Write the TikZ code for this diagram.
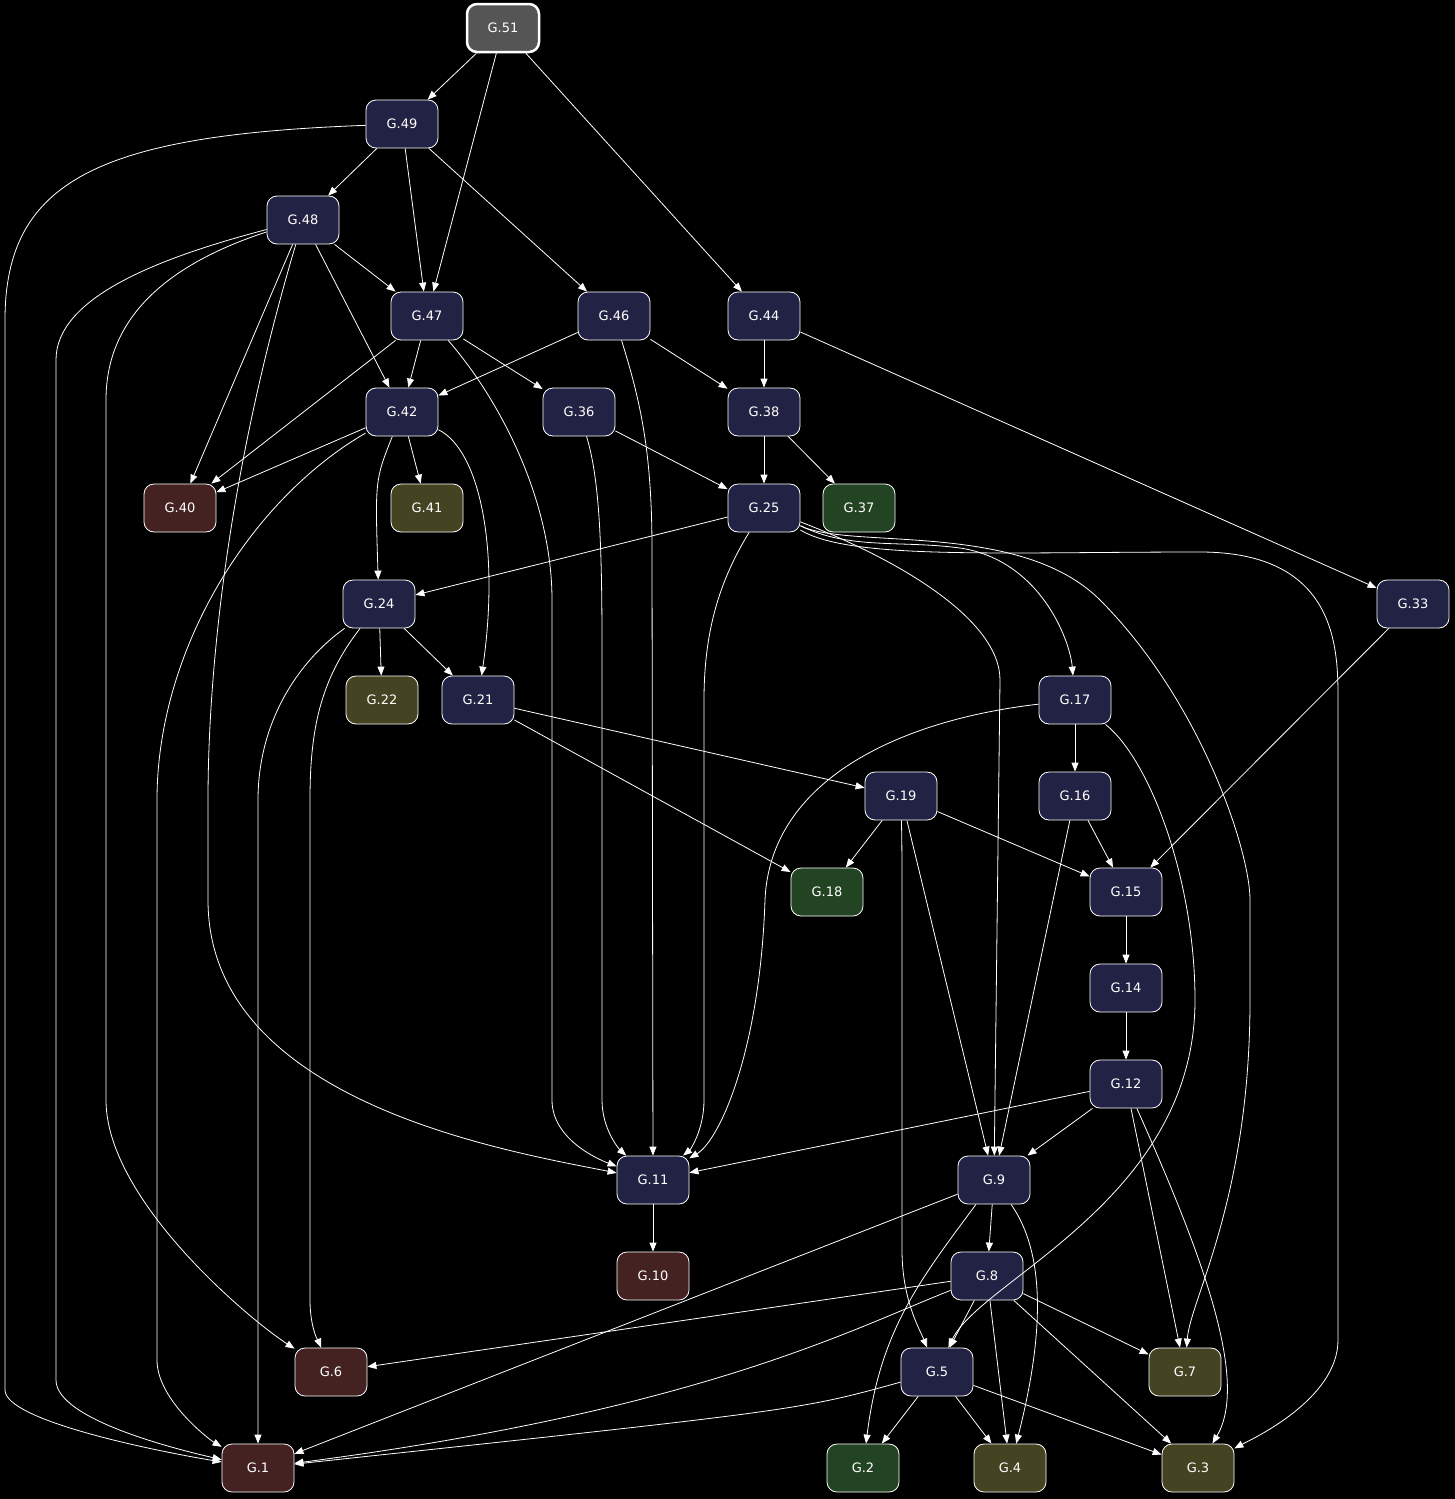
\documentclass[tikz,border=0pt]{standalone}
\usepackage{fontspec}
\setmainfont{DejaVu Sans}
\usetikzlibrary{arrows.meta}
\begin{document}
\begin{tikzpicture}[x=1pt,y=-1pt,
  n/.style={draw=white,rounded corners=10pt,minimum width=72pt,minimum height=48pt,text=white,font=\fontsize{13}{15}\selectfont,line width=0.8pt,inner sep=0pt},
  bl/.style={n,fill=blue!35!black!30!black!100!white!0!black, fill={rgb,255:red,34;green,34;blue,68}},
  rd/.style={n,fill={rgb,255:red,68;green,34;blue,34}},
  ol/.style={n,fill={rgb,255:red,68;green,68;blue,34}},
  gr/.style={n,fill={rgb,255:red,34;green,68;blue,34}},
  gy/.style={n,fill={rgb,255:red,85;green,85;blue,85},line width=2.5pt},
  e/.style={draw=white,line width=0.8pt,-{Triangle[length=9pt,width=7pt]}}]
\fill[black] (0,0) rectangle (1455,1499);
\useasboundingbox (0,0) rectangle (1455,1499);
\node[gy] (51) at (503,28) {G.51};
\node[bl] (49) at (402,124) {G.49};
\node[bl] (48) at (303,220) {G.48};
\node[bl] (47) at (427,316) {G.47};
\node[bl] (46) at (614,316) {G.46};
\node[bl] (44) at (764,316) {G.44};
\node[bl] (42) at (402,412) {G.42};
\node[bl] (36) at (579,412) {G.36};
\node[bl] (38) at (764,412) {G.38};
\node[rd] (40) at (180,508) {G.40};
\node[ol] (41) at (427,508) {G.41};
\node[bl] (25) at (764,508) {G.25};
\node[gr] (37) at (859,508) {G.37};
\node[bl] (24) at (379,604) {G.24};
\node[bl] (33) at (1413,604) {G.33};
\node[ol] (22) at (382,700) {G.22};
\node[bl] (21) at (478,700) {G.21};
\node[bl] (17) at (1075,700) {G.17};
\node[bl] (19) at (901,796) {G.19};
\node[bl] (16) at (1075,796) {G.16};
\node[gr] (18) at (827,892) {G.18};
\node[bl] (15) at (1126,892) {G.15};
\node[bl] (14) at (1126,988) {G.14};
\node[bl] (12) at (1126,1084) {G.12};
\node[bl] (11) at (653,1180) {G.11};
\node[bl] (9) at (994,1180) {G.9};
\node[rd] (10) at (653,1276) {G.10};
\node[bl] (8) at (987,1276) {G.8};
\node[rd] (6) at (331,1372) {G.6};
\node[bl] (5) at (937,1372) {G.5};
\node[ol] (7) at (1185,1372) {G.7};
\node[rd] (1) at (258,1468) {G.1};
\node[gr] (2) at (863,1468) {G.2};
\node[ol] (4) at (1010,1468) {G.4};
\node[ol] (3) at (1198,1468) {G.3};
\foreach \a/\b in {51/49,51/47,51/44,49/48,49/47,49/46,48/47,48/42,48/40,47/42,47/40,47/36,46/42,46/38,44/38,44/33,42/40,42/41,36/25,38/25,38/37,25/24,24/22,24/21,33/15,21/19,21/18,17/16,19/18,19/15,19/9,16/15,16/9,15/14,14/12,12/11,12/9,12/7,11/10,9/8,9/1,8/6,8/5,8/4,8/7,8/3,5/2,5/4,5/3}
  \draw[e] (\a) -- (\b);
\draw[e] (49) .. controls (100,135) and (5,180) .. (5,320) -- (5,1390) .. controls (5,1420) and (150,1450) .. (1);
\draw[e] (48) .. controls (220,500) and (208,700) .. (208,800) -- (208,900) .. controls (208,1100) and (500,1150) .. (11);
\draw[e] (48) .. controls (150,270) and (106,330) .. (106,400) -- (106,1100) .. controls (106,1200) and (250,1320) .. (6);
\draw[e] (48) .. controls (150,260) and (56,300) .. (56,360) -- (56,1380) .. controls (56,1420) and (180,1450) .. (1);
\draw[e] (47) .. controls (500,400) and (552,500) .. (552,600) -- (552,1100) .. controls (552,1140) and (600,1160) .. (11);
\draw[e] (46) .. controls (640,400) and (652,450) .. (652,550) -- (11);
\draw[e] (42) .. controls (250,500) and (157,650) .. (157,800) -- (157,1360) .. controls (157,1400) and (210,1440) .. (1);
\draw[e] (42) .. controls (480,450) and (500,550) .. (21);
\draw[e] (42) .. controls (375,480) .. (24);
\draw[e] (36) .. controls (600,480) and (602,550) .. (602,650) -- (602,1100) .. controls (602,1130) and (620,1150) .. (11);
\draw[e] (25) .. controls (720,580) and (704,630) .. (704,700) -- (704,1100) .. controls (704,1130) and (690,1150) .. (11);
\draw[e] (25) .. controls (900,560) and (1000,620) .. (1000,680) -- (9);
\draw[e] (25) .. controls (850,550) and (900,540) .. (960,548) .. controls (1040,560) and (1070,640) .. (17);
\draw[e] (25) .. controls (850,550) and (1020,520) .. (1100,600) .. controls (1200,700) and (1250,850) .. (1250,900) -- (1250,1000) .. controls (1250,1200) and (1190,1300) .. (7);
\draw[e] (25) .. controls (850,560) and (1000,552) .. (1200,552) .. controls (1338,552) and (1338,650) .. (1338,700) -- (1338,1340) .. controls (1338,1400) and (1250,1440) .. (3);
\draw[e] (24) .. controls (300,660) and (258,720) .. (258,800) -- (1);
\draw[e] (24) .. controls (320,680) and (310,730) .. (310,800) -- (310,1300) .. controls (310,1330) and (320,1345) .. (6);
\draw[e] (17) .. controls (900,720) and (770,780) .. (765,900) .. controls (760,1050) and (720,1140) .. (11);
\draw[e] (17) .. controls (1150,760) and (1195,880) .. (1195,1000) .. controls (1195,1200) and (980,1280) .. (5);
\draw[e] (19) .. controls (902,850) .. (902,950) -- (902,1250) .. controls (902,1300) and (920,1330) .. (5);
\draw[e] (9) .. controls (920,1280) and (880,1330) .. (2);
\draw[e] (9) .. controls (1050,1260) and (1040,1350) .. (4);
\draw[e] (12) .. controls (1200,1250) and (1250,1380) .. (3);
\draw[e] (8) .. controls (850,1330) and (700,1410) .. (1);
\draw[e] (5) .. controls (800,1410) .. (1);
\end{tikzpicture}
\end{document}
